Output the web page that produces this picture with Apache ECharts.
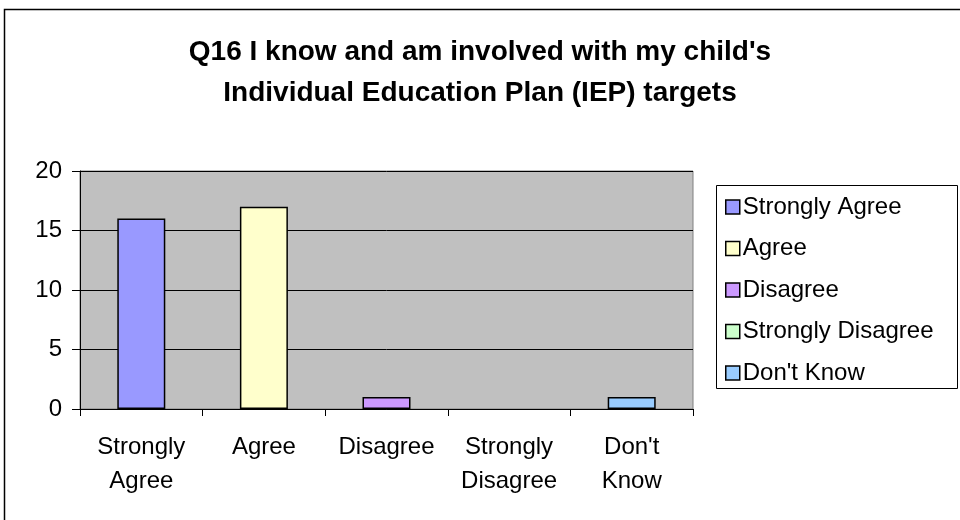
<!DOCTYPE html>
<html>
<head>
<meta charset="utf-8">
<script src="https://cdn.jsdelivr.net/npm/echarts@6/dist/echarts.min.js"></script>
<style>
html,body{margin:0;padding:0;background:#fff;}
#c{width:960px;height:520px;}
</style>
</head>
<body>
<div id="c"></div>
<script>
const titleLines = ["Q16 I know and am involved with my child's", "Individual Education Plan (IEP) targets"];
const categories = ["Strongly Agree", "Agree", "Disagree", "Strongly Disagree", "Don't Know"];
const values = [16, 17, 1, 0, 1];
const colors = ["#9999FF", "#FFFFCC", "#CC99FF", "#CCFFCC", "#99CCFF"];
const yTicks = { min: 0, max: 20, interval: 5 };

const FONT = "'Liberation Sans', Arial, sans-serif";

const series = categories.map((name, i) => ({
  name: name,
  type: 'bar',
  barWidth: 48,
  barGap: '-100%',
  data: categories.map((c, j) => {
    if (j !== i) return null;
    // a zero value has no visible bar in the reference
    return values[i] === 0 ? { value: 0, itemStyle: { borderWidth: 0, opacity: 0 } } : values[i];
  }),
  itemStyle: { color: colors[i], borderColor: '#000', borderWidth: 1.5 },
  emphasis: { disabled: true }
}));

const chart = echarts.init(document.getElementById('c'), null, { renderer: 'canvas' });
chart.setOption({
  animation: false,
  backgroundColor: '#fff',
  title: {
    text: titleLines.join('\n'),
    left: 'center',
    top: 27,
    textStyle: { fontFamily: FONT, fontWeight: 'bold', fontSize: 28, lineHeight: 41, color: '#000' }
  },
  graphic: [
    { type: 'rect', shape: { x: 4.5, y: 9.5, width: 1000, height: 600 }, style: { fill: 'none', stroke: '#000', lineWidth: 1.5 }, silent: true },
    { type: 'rect', shape: { x: 716.5, y: 185.5, width: 241, height: 203 }, style: { fill: '#fff', stroke: '#000', lineWidth: 1 }, silent: true, z: 0 }
  ],
  legend: {
    orient: 'vertical',
    left: 716,
    top: 185,
    padding: [10, 5, 3, 9],
    itemWidth: 14,
    itemHeight: 14,
    itemGap: 17.5,
    icon: 'rect',
    textStyle: { fontFamily: FONT, fontSize: 24, lineHeight: 24, color: '#000', padding: [0, 0, 0, -2] },
    itemStyle: { borderColor: '#000', borderWidth: 1.5 },
    data: categories,
    z: 5
  },
  grid: {
    left: 80, right: 267, top: 171, bottom: 111,
    show: true, backgroundColor: '#C0C0C0', borderColor: '#808080', borderWidth: 1
  },
  xAxis: {
    type: 'category',
    data: categories,
    axisLine: { lineStyle: { color: '#000', width: 1 } },
    axisTick: { show: true, length: 7, lineStyle: { color: '#000' } },
    axisLabel: {
      interval: 0,
      margin: 21,
      fontFamily: FONT, fontSize: 24, lineHeight: 34, color: '#000',
      formatter: v => v.replace(' ', '\n')
    }
  },
  yAxis: {
    type: 'value',
    min: yTicks.min, max: yTicks.max, interval: yTicks.interval,
    axisLine: { show: true, lineStyle: { color: '#000', width: 1 } },
    axisTick: { show: true, length: 8, lineStyle: { color: '#000' } },
    axisLabel: { margin: 18, fontFamily: FONT, fontSize: 24, color: '#000' },
    splitLine: { show: true, lineStyle: { color: '#000', width: 1 } }
  },
  series: series
});
</script>
</body>
</html>
